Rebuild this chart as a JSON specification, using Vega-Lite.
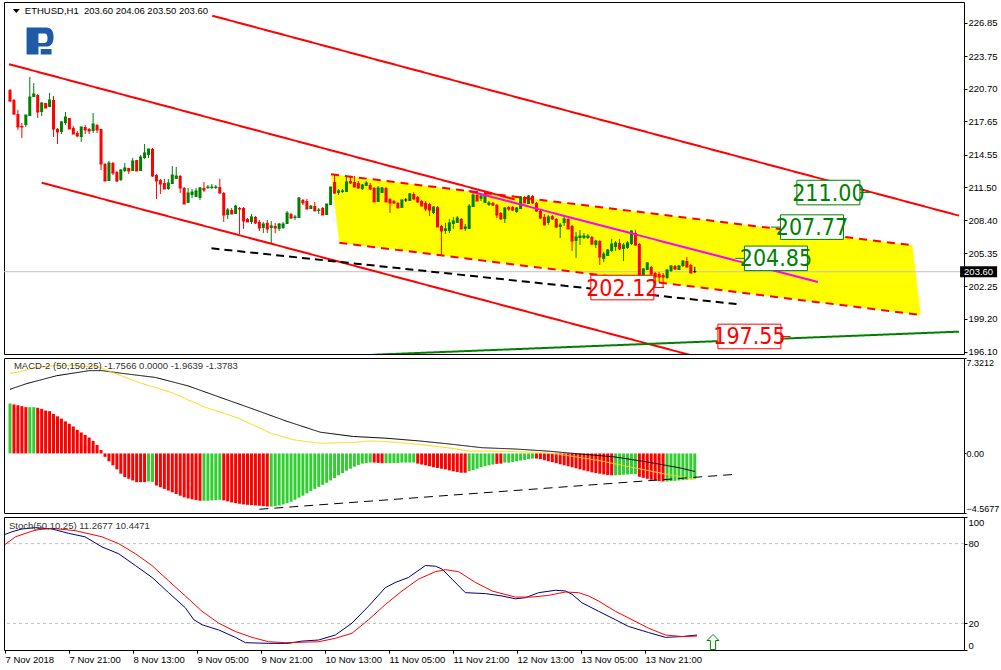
{
"$schema": "https://vega.github.io/schema/vega-lite/v6.json",
"background": "#ffffff",
"padding": {"left": 2, "top": 1, "right": 0, "bottom": 0},
"spacing": 4,
"bounds": "flush",
"resolve": {"scale": {"x": "independent", "y": "independent", "color": "independent", "stroke": "independent", "strokeDash": "independent", "strokeWidth": "independent"}},
"config": {"view": {"stroke": "#000000", "strokeWidth": 1}, "font": "Liberation Sans", "axis": {"labelOverlap": false, "labelFontSize": 9.5, "labelFont": "Liberation Sans", "labelColor": "#000000", "tickColor": "#000000", "grid": false, "domain": false}},
"datasets": {
"candles": [
{"i":0,"o":220.59,"hi":220.68,"lo":219.46,"c":219.56},{"i":1,"o":219.65,"hi":219.74,"lo":218.25,"c":218.34},{"i":2,"o":218.34,"hi":218.72,"lo":216.85,"c":217.13},{"i":3,"o":217.22,"hi":217.50,"lo":216.10,"c":217.13},{"i":4,"o":217.31,"hi":218.25,"lo":217.13,"c":218.25},{"i":5,"o":218.16,"hi":221.80,"lo":218.16,"c":219.93},{"i":6,"o":219.93,"hi":221.24,"lo":219.93,"c":220.21},{"i":7,"o":220.12,"hi":220.21,"lo":217.97,"c":218.53},{"i":8,"o":218.53,"hi":219.46,"lo":218.16,"c":219.37},{"i":9,"o":219.37,"hi":219.37,"lo":218.90,"c":218.90},
{"i":10,"o":219.00,"hi":220.31,"lo":219.00,"c":219.65},{"i":11,"o":219.65,"hi":220.03,"lo":216.19,"c":216.94},{"i":12,"o":216.94,"hi":217.03,"lo":215.54,"c":216.66},{"i":13,"o":216.66,"hi":217.69,"lo":216.47,"c":217.60},{"i":14,"o":217.50,"hi":218.53,"lo":217.31,"c":218.06},{"i":15,"o":217.97,"hi":217.97,"lo":216.94,"c":216.94},{"i":16,"o":217.03,"hi":217.22,"lo":216.47,"c":216.47},{"i":17,"o":216.57,"hi":216.75,"lo":216.19,"c":216.29},{"i":18,"o":216.19,"hi":217.13,"lo":215.73,"c":217.13},{"i":19,"o":217.13,"hi":217.31,"lo":216.47,"c":216.85},
{"i":20,"o":216.94,"hi":217.03,"lo":216.47,"c":216.75},{"i":21,"o":216.75,"hi":218.44,"lo":216.57,"c":217.41},{"i":22,"o":217.31,"hi":217.41,"lo":216.57,"c":216.85},{"i":23,"o":216.94,"hi":216.94,"lo":213.11,"c":213.67},{"i":24,"o":213.67,"hi":213.76,"lo":212.08,"c":212.08},{"i":25,"o":212.08,"hi":213.95,"lo":212.08,"c":213.76},{"i":26,"o":213.76,"hi":213.86,"lo":212.64,"c":212.83},{"i":27,"o":212.92,"hi":213.02,"lo":211.99,"c":212.08},{"i":28,"o":212.17,"hi":213.20,"lo":212.08,"c":213.11},{"i":29,"o":213.02,"hi":213.76,"lo":212.92,"c":213.30},
{"i":30,"o":213.30,"hi":213.30,"lo":212.74,"c":213.02},{"i":31,"o":213.02,"hi":214.23,"lo":213.02,"c":213.95},{"i":32,"o":214.04,"hi":214.04,"lo":213.02,"c":213.02},{"i":33,"o":213.02,"hi":214.51,"lo":213.02,"c":214.32},{"i":34,"o":214.23,"hi":215.54,"lo":214.14,"c":214.70},{"i":35,"o":214.51,"hi":215.07,"lo":214.23,"c":215.07},{"i":36,"o":215.07,"hi":215.17,"lo":212.46,"c":212.55},{"i":37,"o":212.64,"hi":212.74,"lo":210.40,"c":212.08},{"i":38,"o":212.17,"hi":212.27,"lo":210.87,"c":211.80},{"i":39,"o":211.89,"hi":212.27,"lo":211.33,"c":211.33},
{"i":40,"o":211.33,"hi":212.27,"lo":211.24,"c":211.89},{"i":41,"o":211.80,"hi":213.48,"lo":211.80,"c":212.64},{"i":42,"o":212.27,"hi":213.39,"lo":212.27,"c":212.55},{"i":43,"o":212.55,"hi":212.64,"lo":210.96,"c":211.43},{"i":44,"o":211.43,"hi":211.52,"lo":209.93,"c":209.93},{"i":45,"o":210.03,"hi":211.43,"lo":210.03,"c":210.96},{"i":46,"o":210.77,"hi":211.33,"lo":210.49,"c":211.05},{"i":47,"o":210.59,"hi":211.43,"lo":210.59,"c":211.15},{"i":48,"o":210.49,"hi":211.52,"lo":210.31,"c":211.43},{"i":49,"o":211.43,"hi":211.99,"lo":211.05,"c":211.24},
{"i":50,"o":211.43,"hi":211.71,"lo":211.33,"c":211.52},{"i":51,"o":211.43,"hi":211.80,"lo":211.33,"c":211.52},{"i":52,"o":211.43,"hi":211.71,"lo":211.33,"c":211.52},{"i":53,"o":211.52,"hi":212.27,"lo":210.87,"c":210.96},{"i":54,"o":210.96,"hi":211.05,"lo":208.25,"c":208.90},{"i":55,"o":208.90,"hi":209.56,"lo":208.53,"c":209.37},{"i":56,"o":209.37,"hi":209.56,"lo":209.00,"c":209.00},{"i":57,"o":209.00,"hi":209.84,"lo":209.00,"c":209.74},{"i":58,"o":209.56,"hi":209.65,"lo":207.13,"c":209.46},{"i":59,"o":209.56,"hi":209.65,"lo":207.60,"c":208.34},
{"i":60,"o":208.53,"hi":208.62,"lo":208.25,"c":208.25},{"i":61,"o":208.25,"hi":209.00,"lo":208.06,"c":208.72},{"i":62,"o":208.72,"hi":208.81,"lo":208.06,"c":208.16},{"i":63,"o":208.25,"hi":208.44,"lo":207.41,"c":207.69},{"i":64,"o":207.69,"hi":208.25,"lo":207.22,"c":208.06},{"i":65,"o":208.16,"hi":208.44,"lo":207.22,"c":207.60},{"i":66,"o":207.69,"hi":208.34,"lo":206.19,"c":207.88},{"i":67,"o":207.88,"hi":208.16,"lo":207.22,"c":207.69},{"i":68,"o":207.60,"hi":208.16,"lo":207.41,"c":208.06},{"i":69,"o":207.69,"hi":208.25,"lo":207.60,"c":208.06},
{"i":70,"o":208.06,"hi":209.28,"lo":208.06,"c":209.09},{"i":71,"o":209.00,"hi":209.09,"lo":208.53,"c":208.62},{"i":72,"o":208.62,"hi":208.90,"lo":208.44,"c":208.72},{"i":73,"o":208.62,"hi":210.59,"lo":208.62,"c":210.49},{"i":74,"o":210.31,"hi":210.40,"lo":209.84,"c":210.03},{"i":75,"o":210.21,"hi":210.40,"lo":209.46,"c":209.46},{"i":76,"o":209.46,"hi":209.84,"lo":209.46,"c":209.74},{"i":77,"o":209.74,"hi":210.12,"lo":209.28,"c":209.28},{"i":78,"o":209.28,"hi":209.56,"lo":209.00,"c":209.37},{"i":79,"o":209.56,"hi":209.65,"lo":208.90,"c":208.90},
{"i":80,"o":208.90,"hi":209.93,"lo":208.90,"c":209.93},{"i":81,"o":209.84,"hi":211.52,"lo":209.84,"c":211.52},{"i":82,"o":211.99,"hi":212.74,"lo":210.87,"c":210.96},{"i":83,"o":210.96,"hi":211.33,"lo":210.77,"c":211.15},{"i":84,"o":211.05,"hi":211.33,"lo":210.96,"c":211.15},{"i":85,"o":211.05,"hi":212.55,"lo":211.05,"c":211.99},{"i":86,"o":212.08,"hi":212.55,"lo":211.80,"c":211.89},{"i":87,"o":211.99,"hi":212.55,"lo":211.52,"c":211.52},{"i":88,"o":211.89,"hi":212.08,"lo":211.33,"c":211.43},{"i":89,"o":211.33,"hi":211.80,"lo":211.24,"c":211.71},
{"i":90,"o":211.61,"hi":212.08,"lo":211.61,"c":211.89},{"i":91,"o":211.71,"hi":211.89,"lo":211.24,"c":211.33},{"i":92,"o":211.43,"hi":211.52,"lo":210.12,"c":210.12},{"i":93,"o":210.12,"hi":211.61,"lo":210.12,"c":211.43},{"i":94,"o":210.96,"hi":211.52,"lo":210.96,"c":211.43},{"i":95,"o":211.43,"hi":211.52,"lo":210.12,"c":210.12},{"i":96,"o":210.40,"hi":210.49,"lo":209.09,"c":210.03},{"i":97,"o":210.21,"hi":210.31,"lo":209.93,"c":210.03},{"i":98,"o":210.03,"hi":210.12,"lo":209.56,"c":209.56},{"i":99,"o":209.56,"hi":210.31,"lo":209.56,"c":210.31},
{"i":100,"o":210.31,"hi":210.49,"lo":210.12,"c":210.31},{"i":101,"o":210.21,"hi":210.96,"lo":210.21,"c":210.87},{"i":102,"o":210.87,"hi":211.05,"lo":210.31,"c":210.40},{"i":103,"o":210.59,"hi":210.68,"lo":210.03,"c":210.12},{"i":104,"o":210.21,"hi":210.31,"lo":209.74,"c":209.74},{"i":105,"o":210.03,"hi":210.21,"lo":209.28,"c":209.46},{"i":106,"o":209.93,"hi":210.03,"lo":208.81,"c":209.37},{"i":107,"o":209.09,"hi":209.74,"lo":209.00,"c":209.65},{"i":108,"o":209.65,"hi":209.74,"lo":207.78,"c":207.78},{"i":109,"o":207.88,"hi":207.97,"lo":205.07,"c":207.41},
{"i":110,"o":207.41,"hi":208.16,"lo":207.13,"c":207.60},{"i":111,"o":207.41,"hi":208.53,"lo":207.22,"c":208.16},{"i":112,"o":208.06,"hi":208.72,"lo":207.60,"c":208.34},{"i":113,"o":208.16,"hi":208.81,"lo":208.16,"c":208.62},{"i":114,"o":208.53,"hi":208.62,"lo":207.60,"c":207.60},{"i":115,"o":207.60,"hi":208.06,"lo":207.41,"c":207.78},{"i":116,"o":207.60,"hi":209.93,"lo":207.60,"c":209.74},{"i":117,"o":209.65,"hi":210.96,"lo":209.65,"c":210.77},{"i":118,"o":210.77,"hi":211.15,"lo":210.21,"c":210.21},{"i":119,"o":210.40,"hi":210.87,"lo":210.21,"c":210.68},
{"i":120,"o":210.03,"hi":210.96,"lo":210.03,"c":210.77},{"i":121,"o":209.84,"hi":210.21,"lo":209.74,"c":210.03},{"i":122,"o":210.03,"hi":210.12,"lo":209.74,"c":209.84},{"i":123,"o":209.84,"hi":209.93,"lo":208.62,"c":208.90},{"i":124,"o":209.09,"hi":209.18,"lo":208.44,"c":208.53},{"i":125,"o":208.53,"hi":209.65,"lo":208.16,"c":209.56},{"i":126,"o":209.65,"hi":209.74,"lo":209.28,"c":209.46},{"i":127,"o":209.65,"hi":209.74,"lo":209.28,"c":209.37},{"i":128,"o":209.18,"hi":209.65,"lo":209.09,"c":209.56},{"i":129,"o":209.46,"hi":210.68,"lo":209.46,"c":210.59},
{"i":130,"o":210.59,"hi":210.68,"lo":210.03,"c":210.03},{"i":131,"o":209.93,"hi":210.77,"lo":209.93,"c":210.68},{"i":132,"o":210.68,"hi":210.77,"lo":209.93,"c":210.03},{"i":133,"o":210.03,"hi":210.12,"lo":209.18,"c":209.28},{"i":134,"o":209.28,"hi":209.37,"lo":208.53,"c":208.62},{"i":135,"o":208.72,"hi":209.00,"lo":207.97,"c":207.97},{"i":136,"o":208.16,"hi":208.90,"lo":207.97,"c":208.72},{"i":137,"o":208.81,"hi":208.90,"lo":208.44,"c":208.53},{"i":138,"o":208.53,"hi":208.62,"lo":207.69,"c":207.78},{"i":139,"o":207.78,"hi":208.16,"lo":206.75,"c":207.97},
{"i":140,"o":208.16,"hi":208.90,"lo":207.88,"c":208.53},{"i":141,"o":208.53,"hi":208.62,"lo":207.60,"c":207.60},{"i":142,"o":207.88,"hi":207.97,"lo":205.54,"c":206.47},{"i":143,"o":206.47,"hi":207.31,"lo":204.89,"c":206.85},{"i":144,"o":206.75,"hi":207.50,"lo":206.10,"c":206.94},{"i":145,"o":206.75,"hi":207.22,"lo":206.66,"c":206.94},{"i":146,"o":206.75,"hi":207.13,"lo":206.66,"c":206.94},{"i":147,"o":206.85,"hi":206.94,"lo":206.10,"c":206.19},{"i":148,"o":206.10,"hi":206.57,"lo":205.82,"c":206.47},{"i":149,"o":206.47,"hi":206.57,"lo":204.23,"c":204.98},
{"i":150,"o":204.79,"hi":205.45,"lo":204.51,"c":205.26},{"i":151,"o":205.07,"hi":205.73,"lo":205.07,"c":205.63},{"i":152,"o":205.54,"hi":206.66,"lo":205.45,"c":206.19},{"i":153,"o":205.91,"hi":206.47,"lo":205.54,"c":206.29},{"i":154,"o":206.29,"hi":206.66,"lo":205.63,"c":205.73},{"i":155,"o":205.73,"hi":206.29,"lo":204.60,"c":206.10},{"i":156,"o":205.82,"hi":206.47,"lo":205.73,"c":206.29},{"i":157,"o":206.19,"hi":207.50,"lo":206.10,"c":207.41},{"i":158,"o":207.22,"hi":207.50,"lo":206.01,"c":206.10},{"i":159,"o":206.19,"hi":206.29,"lo":202.83,"c":202.92},
{"i":160,"o":203.11,"hi":203.95,"lo":202.83,"c":203.86},{"i":161,"o":203.76,"hi":204.51,"lo":203.76,"c":204.42},{"i":162,"o":204.04,"hi":204.14,"lo":203.20,"c":203.39},{"i":163,"o":203.48,"hi":203.58,"lo":202.55,"c":203.11},{"i":164,"o":203.39,"hi":203.58,"lo":202.64,"c":203.11},{"i":165,"o":203.30,"hi":203.48,"lo":202.12,"c":203.11},{"i":166,"o":203.02,"hi":203.86,"lo":202.92,"c":203.76},{"i":167,"o":203.67,"hi":204.23,"lo":203.58,"c":204.14},{"i":168,"o":204.14,"hi":204.23,"lo":203.76,"c":203.86},{"i":169,"o":203.76,"hi":204.23,"lo":203.76,"c":204.14},
{"i":170,"o":204.14,"hi":204.70,"lo":204.04,"c":204.60},{"i":171,"o":204.60,"hi":204.98,"lo":204.04,"c":204.04},{"i":172,"o":204.23,"hi":204.32,"lo":203.48,"c":203.48},{"i":173,"o":203.60,"hi":204.06,"lo":203.50,"c":203.60}
],
"macdh": [
{"i":0,"m":3.83,"col":"g"},{"i":1,"m":3.76,"col":"r"},{"i":2,"m":3.70,"col":"r"},{"i":3,"m":3.63,"col":"r"},{"i":4,"m":3.55,"col":"r"},{"i":5,"m":3.55,"col":"g"},{"i":6,"m":3.55,"col":"g"},{"i":7,"m":3.50,"col":"r"},{"i":8,"m":3.42,"col":"r"},{"i":9,"m":3.29,"col":"r"},
{"i":10,"m":3.24,"col":"r"},{"i":11,"m":3.03,"col":"r"},{"i":12,"m":2.85,"col":"r"},{"i":13,"m":2.67,"col":"r"},{"i":14,"m":2.46,"col":"r"},{"i":15,"m":2.28,"col":"r"},{"i":16,"m":2.07,"col":"r"},{"i":17,"m":1.81,"col":"r"},{"i":18,"m":1.61,"col":"r"},{"i":19,"m":1.42,"col":"r"},
{"i":20,"m":1.22,"col":"r"},{"i":21,"m":0.96,"col":"r"},{"i":22,"m":0.65,"col":"r"},{"i":23,"m":0.26,"col":"r"},{"i":24,"m":-0.26,"col":"r"},{"i":25,"m":-0.60,"col":"r"},{"i":26,"m":-0.91,"col":"r"},{"i":27,"m":-1.22,"col":"r"},{"i":28,"m":-1.55,"col":"r"},{"i":29,"m":-1.81,"col":"r"},
{"i":30,"m":-1.94,"col":"r"},{"i":31,"m":-2.07,"col":"r"},{"i":32,"m":-2.20,"col":"r"},{"i":33,"m":-2.20,"col":"r"},{"i":34,"m":-2.20,"col":"r"},{"i":35,"m":-2.15,"col":"g"},{"i":36,"m":-2.18,"col":"g"},{"i":37,"m":-2.46,"col":"r"},{"i":38,"m":-2.59,"col":"r"},{"i":39,"m":-2.72,"col":"r"},
{"i":40,"m":-2.85,"col":"r"},{"i":41,"m":-2.98,"col":"r"},{"i":42,"m":-3.11,"col":"r"},{"i":43,"m":-3.24,"col":"r"},{"i":44,"m":-3.37,"col":"r"},{"i":45,"m":-3.45,"col":"r"},{"i":46,"m":-3.52,"col":"r"},{"i":47,"m":-3.58,"col":"r"},{"i":48,"m":-3.63,"col":"r"},{"i":49,"m":-3.63,"col":"g"},
{"i":50,"m":-3.63,"col":"g"},{"i":51,"m":-3.60,"col":"g"},{"i":52,"m":-3.58,"col":"g"},{"i":53,"m":-3.55,"col":"g"},{"i":54,"m":-3.60,"col":"r"},{"i":55,"m":-3.68,"col":"r"},{"i":56,"m":-3.76,"col":"r"},{"i":57,"m":-3.81,"col":"r"},{"i":58,"m":-3.86,"col":"r"},{"i":59,"m":-3.91,"col":"r"},
{"i":60,"m":-3.94,"col":"r"},{"i":61,"m":-3.96,"col":"r"},{"i":62,"m":-3.99,"col":"r"},{"i":63,"m":-4.02,"col":"r"},{"i":64,"m":-4.04,"col":"r"},{"i":65,"m":-4.07,"col":"r"},{"i":66,"m":-4.07,"col":"g"},{"i":67,"m":-4.04,"col":"g"},{"i":68,"m":-3.99,"col":"g"},{"i":69,"m":-3.91,"col":"g"},
{"i":70,"m":-3.81,"col":"g"},{"i":71,"m":-3.70,"col":"g"},{"i":72,"m":-3.55,"col":"g"},{"i":73,"m":-3.39,"col":"g"},{"i":74,"m":-3.24,"col":"g"},{"i":75,"m":-3.06,"col":"g"},{"i":76,"m":-2.88,"col":"g"},{"i":77,"m":-2.72,"col":"g"},{"i":78,"m":-2.56,"col":"g"},{"i":79,"m":-2.41,"col":"g"},
{"i":80,"m":-2.25,"col":"g"},{"i":81,"m":-2.07,"col":"g"},{"i":82,"m":-1.89,"col":"g"},{"i":83,"m":-1.68,"col":"g"},{"i":84,"m":-1.50,"col":"g"},{"i":85,"m":-1.32,"col":"g"},{"i":86,"m":-1.17,"col":"g"},{"i":87,"m":-1.01,"col":"g"},{"i":88,"m":-0.88,"col":"g"},{"i":89,"m":-0.78,"col":"g"},
{"i":90,"m":-0.73,"col":"g"},{"i":91,"m":-0.70,"col":"g"},{"i":92,"m":-0.70,"col":"r"},{"i":93,"m":-0.73,"col":"r"},{"i":94,"m":-0.75,"col":"r"},{"i":95,"m":-0.75,"col":"g"},{"i":96,"m":-0.75,"col":"g"},{"i":97,"m":-0.73,"col":"g"},{"i":98,"m":-0.73,"col":"g"},{"i":99,"m":-0.70,"col":"g"},
{"i":100,"m":-0.70,"col":"g"},{"i":101,"m":-0.70,"col":"g"},{"i":102,"m":-0.70,"col":"g"},{"i":103,"m":-0.78,"col":"r"},{"i":104,"m":-0.85,"col":"r"},{"i":105,"m":-0.91,"col":"r"},{"i":106,"m":-0.98,"col":"r"},{"i":107,"m":-1.06,"col":"r"},{"i":108,"m":-1.11,"col":"r"},{"i":109,"m":-1.17,"col":"r"},
{"i":110,"m":-1.22,"col":"r"},{"i":111,"m":-1.30,"col":"r"},{"i":112,"m":-1.37,"col":"r"},{"i":113,"m":-1.42,"col":"r"},{"i":114,"m":-1.48,"col":"r"},{"i":115,"m":-1.48,"col":"r"},{"i":116,"m":-1.37,"col":"g"},{"i":117,"m":-1.27,"col":"g"},{"i":118,"m":-1.17,"col":"g"},{"i":119,"m":-1.06,"col":"g"},
{"i":120,"m":-0.96,"col":"g"},{"i":121,"m":-0.91,"col":"g"},{"i":122,"m":-0.85,"col":"g"},{"i":123,"m":-0.80,"col":"r"},{"i":124,"m":-0.78,"col":"r"},{"i":125,"m":-0.70,"col":"g"},{"i":126,"m":-0.70,"col":"g"},{"i":127,"m":-0.65,"col":"g"},{"i":128,"m":-0.60,"col":"g"},{"i":129,"m":-0.54,"col":"g"},
{"i":130,"m":-0.49,"col":"g"},{"i":131,"m":-0.44,"col":"g"},{"i":132,"m":-0.39,"col":"g"},{"i":133,"m":-0.39,"col":"r"},{"i":134,"m":-0.44,"col":"r"},{"i":135,"m":-0.52,"col":"r"},{"i":136,"m":-0.60,"col":"r"},{"i":137,"m":-0.67,"col":"r"},{"i":138,"m":-0.75,"col":"r"},{"i":139,"m":-0.83,"col":"r"},
{"i":140,"m":-0.91,"col":"r"},{"i":141,"m":-0.98,"col":"r"},{"i":142,"m":-1.06,"col":"r"},{"i":143,"m":-1.14,"col":"r"},{"i":144,"m":-1.22,"col":"r"},{"i":145,"m":-1.30,"col":"r"},{"i":146,"m":-1.37,"col":"r"},{"i":147,"m":-1.45,"col":"r"},{"i":148,"m":-1.50,"col":"r"},{"i":149,"m":-1.55,"col":"r"},
{"i":150,"m":-1.61,"col":"r"},{"i":151,"m":-1.66,"col":"r"},{"i":152,"m":-1.68,"col":"r"},{"i":153,"m":-1.68,"col":"g"},{"i":154,"m":-1.66,"col":"g"},{"i":155,"m":-1.63,"col":"g"},{"i":156,"m":-1.61,"col":"g"},{"i":157,"m":-1.58,"col":"g"},{"i":158,"m":-1.58,"col":"g"},{"i":159,"m":-1.79,"col":"r"},
{"i":160,"m":-1.87,"col":"r"},{"i":161,"m":-1.94,"col":"r"},{"i":162,"m":-2.02,"col":"r"},{"i":163,"m":-2.07,"col":"r"},{"i":164,"m":-2.12,"col":"r"},{"i":165,"m":-2.15,"col":"r"},{"i":166,"m":-2.15,"col":"g"},{"i":167,"m":-2.12,"col":"g"},{"i":168,"m":-2.10,"col":"g"},{"i":169,"m":-2.07,"col":"g"},
{"i":170,"m":-2.05,"col":"g"},{"i":171,"m":-2.02,"col":"g"},{"i":172,"m":-1.99,"col":"g"},{"i":173,"m":-1.94,"col":"g"}
],
"macdl": [
{"s":"macd","i":0,"m":4.92},{"s":"macd","i":4.25,"m":5.36},{"s":"macd","i":11.75,"m":5.96},{"s":"macd","i":20,"m":6.35},{"s":"macd","i":23.4,"m":6.35},{"s":"macd","i":28.4,"m":6.14},{"s":"macd","i":36.75,"m":5.83},{"s":"macd","i":45,"m":5.18},{"s":"macd","i":53.4,"m":4.27},{"s":"macd","i":61.75,"m":3.37},{"s":"macd","i":70,"m":2.46},{"s":"macd","i":78.4,"m":1.63},{"s":"macd","i":86.75,"m":1.30},{"s":"macd","i":95,"m":1.17},{"s":"macd","i":103.4,"m":0.96},{"s":"macd","i":111.75,"m":0.70},{"s":"macd","i":119.25,"m":0.44},{"s":"macd","i":127.6,"m":0.34},{"s":"macd","i":135.9,"m":0.18},{"s":"macd","i":144.25,"m":-0.05},{"s":"macd","i":152.6,"m":-0.26},{"s":"macd","i":160.9,"m":-0.65},{"s":"macd","i":169.25,"m":-1.11},{"s":"macd","i":173,"m":-1.38},
{"s":"sig","i":0,"m":6.14},{"s":"sig","i":1.75,"m":6.22},{"s":"sig","i":6.75,"m":6.61},{"s":"sig","i":11.75,"m":6.74},{"s":"sig","i":16,"m":6.74},{"s":"sig","i":22.6,"m":6.61},{"s":"sig","i":25.9,"m":6.22},{"s":"sig","i":32.6,"m":5.44},{"s":"sig","i":40.9,"m":4.66},{"s":"sig","i":49.25,"m":3.55},{"s":"sig","i":57.6,"m":2.72},{"s":"sig","i":65.9,"m":1.55},{"s":"sig","i":71.75,"m":1.04},{"s":"sig","i":78.4,"m":0.78},{"s":"sig","i":86.75,"m":0.85},{"s":"sig","i":90.9,"m":0.96},{"s":"sig","i":95,"m":0.91},{"s":"sig","i":103.4,"m":0.70},{"s":"sig","i":111.75,"m":0.39},{"s":"sig","i":115.9,"m":0.18},{"s":"sig","i":124.25,"m":0.18},{"s":"sig","i":127.6,"m":0.13},{"s":"sig","i":134.25,"m":0.08},{"s":"sig","i":140.1,"m":-0.13},{"s":"sig","i":148.4,"m":-0.52},{"s":"sig","i":156.75,"m":-1.04},{"s":"sig","i":165.1,"m":-1.55},{"s":"sig","i":173,"m":-1.99},
{"s":"trend","i":63,"m":-4.28},{"s":"trend","i":183.75,"m":-1.59}
],
"stoch": [
{"s":"main","i":0,"v":86.9},{"s":"main","i":1.75,"v":88.9},{"s":"main","i":4.25,"v":91.0},{"s":"main","i":7.6,"v":92.0},{"s":"main","i":11.75,"v":91.0},{"s":"main","i":15.9,"v":87.7},{"s":"main","i":20,"v":85.1},{"s":"main","i":24.25,"v":77.5},{"s":"main","i":28.4,"v":72.4},{"s":"main","i":32.6,"v":63.5},{"s":"main","i":36.75,"v":54.6},{"s":"main","i":40.9,"v":43.1},{"s":"main","i":45.1,"v":31.7},{"s":"main","i":47.2,"v":22.8},{"s":"main","i":49.25,"v":19.0},{"s":"main","i":53.4,"v":15.1},{"s":"main","i":57.6,"v":9.5},{"s":"main","i":60.1,"v":5.5},{"s":"main","i":65.9,"v":5.0},{"s":"main","i":70.9,"v":5.0},{"s":"main","i":74.25,"v":6.7},{"s":"main","i":78.4,"v":7.5},{"s":"main","i":82.6,"v":11.3},{"s":"main","i":86.75,"v":20.2},{"s":"main","i":90.9,"v":33.0},{"s":"main","i":95.1,"v":46.9},{"s":"main","i":97.6,"v":50.8},{"s":"main","i":100.9,"v":54.6},{"s":"main","i":105.1,"v":63.5},{"s":"main","i":107.6,"v":63.0},{"s":"main","i":109.25,"v":60.9},{"s":"main","i":111.75,"v":53.3},{"s":"main","i":115.1,"v":43.1},{"s":"main","i":120.1,"v":42.4},{"s":"main","i":124.25,"v":40.6},{"s":"main","i":127.6,"v":38.5},{"s":"main","i":130.1,"v":39.3},{"s":"main","i":133.4,"v":43.1},{"s":"main","i":137.6,"v":44.9},{"s":"main","i":140.1,"v":44.4},{"s":"main","i":141.75,"v":41.9},{"s":"main","i":144.25,"v":35.5},{"s":"main","i":148.4,"v":29.1},{"s":"main","i":152.6,"v":22.8},{"s":"main","i":155.9,"v":17.7},{"s":"main","i":160.9,"v":13.1},{"s":"main","i":165.1,"v":9.5},{"s":"main","i":169.25,"v":10.1},{"s":"main","i":173,"v":11.27},
{"s":"sig","i":0,"v":79.3},{"s":"sig","i":2.6,"v":85.1},{"s":"sig","i":7.6,"v":90.2},{"s":"sig","i":11.75,"v":91.5},{"s":"sig","i":17.6,"v":89.7},{"s":"sig","i":24.25,"v":85.1},{"s":"sig","i":28.4,"v":80.0},{"s":"sig","i":32.6,"v":72.4},{"s":"sig","i":36.75,"v":63.5},{"s":"sig","i":40.9,"v":52.0},{"s":"sig","i":45.1,"v":40.6},{"s":"sig","i":49.25,"v":29.1},{"s":"sig","i":53.4,"v":20.2},{"s":"sig","i":57.6,"v":13.9},{"s":"sig","i":61.75,"v":9.5},{"s":"sig","i":65.9,"v":6.2},{"s":"sig","i":70.1,"v":5.5},{"s":"sig","i":78.4,"v":6.2},{"s":"sig","i":82.6,"v":8.8},{"s":"sig","i":86.75,"v":12.6},{"s":"sig","i":90.9,"v":22.8},{"s":"sig","i":95.1,"v":34.2},{"s":"sig","i":99.25,"v":44.4},{"s":"sig","i":103.4,"v":53.3},{"s":"sig","i":107.6,"v":58.9},{"s":"sig","i":110.1,"v":60.4},{"s":"sig","i":113.4,"v":58.9},{"s":"sig","i":117.6,"v":50.8},{"s":"sig","i":121.75,"v":44.4},{"s":"sig","i":124.25,"v":42.4},{"s":"sig","i":127.6,"v":39.8},{"s":"sig","i":131.75,"v":39.8},{"s":"sig","i":135.9,"v":41.1},{"s":"sig","i":140.1,"v":43.6},{"s":"sig","i":143.4,"v":43.1},{"s":"sig","i":145.9,"v":40.6},{"s":"sig","i":148.4,"v":36.8},{"s":"sig","i":152.6,"v":29.1},{"s":"sig","i":156.75,"v":22.8},{"s":"sig","i":160.9,"v":16.4},{"s":"sig","i":165.1,"v":11.3},{"s":"sig","i":169.25,"v":10.1},{"s":"sig","i":173,"v":10.45}
],
"mlines": [
{"seg":"a","kind":"ch","h":51.1,"v":227.53},{"seg":"a","kind":"ch","h":239.75,"v":208.84},
{"seg":"b","kind":"ch","h":-0.25,"v":223.0},{"seg":"b","kind":"ch","h":127.5,"v":210.36},
{"seg":"c","kind":"ch","h":8,"v":211.92},{"seg":"c","kind":"ch","h":174.25,"v":195.58},
{"seg":"d","kind":"mg","h":115.9,"v":211.15},{"seg":"d","kind":"mg","h":204.1,"v":202.64},
{"seg":"e","kind":"pe","h":81.1,"v":212.71},{"seg":"e","kind":"pe","h":228,"v":206.07},
{"seg":"f","kind":"pe","h":83.2,"v":206.31},{"seg":"f","kind":"pe","h":230.1,"v":199.56},
{"seg":"g","kind":"tr","h":50.9,"v":205.79},{"seg":"g","kind":"tr","h":184,"v":200.56},
{"seg":"k","kind":"gr","h":91.75,"v":195.84},{"seg":"k","kind":"gr","h":239.75,"v":198.0}
],
"poly": [
{"h":81.1,"top":212.71,"bot":212.71},{"h":83.2,"top":212.61,"bot":206.31},{"h":228.0,"top":206.07,"bot":199.66},{"h":230.1,"top":199.56,"bot":199.56}
],
"labels": [
{"h":206.75,"v":211.00,"t":"211.00","col":"g"},{"h":202.6,"v":207.77,"t":"207.77","col":"g"},{"h":193.5,"v":204.85,"t":"204.85","col":"g"},{"h":154.7,"v":202.12,"t":"202.12","col":"r"},{"h":186.8,"v":197.55,"t":"197.55","col":"r"}
],
"conn": [
{"h":214.7,"h2":217.2,"v":211.00,"col":"g"},{"h":192.2,"h2":194.9,"v":207.77,"col":"g"},{"h":183.25,"h2":185.75,"v":204.85,"col":"g"},{"h":194.7,"h2":197.2,"v":197.55,"col":"r"},{"h":162.6,"h2":165.25,"v":202.12,"col":"r"}
],
"pticks": [
{"p":196.1},{"p":199.2},{"p":202.25},{"p":205.35},{"p":208.4},{"p":211.5},{"p":214.55},{"p":217.65},{"p":220.7},{"p":223.75},{"p":226.85}
]
},
"vconcat": [
{
"width": 960, "height": 352,
"resolve": {"scale": {"color": "independent", "stroke": "independent", "strokeDash": "independent", "strokeWidth": "independent"}, "axis": {"y": "independent"}},
"layer": [
{"data": {"name": "poly"}, "mark": {"type": "area", "color": "#ffff00", "clip": true, "opacity": 1},
 "encoding": {
  "x": {"field": "h", "type": "quantitative", "scale": {"domain": [-0.25, 239.75], "nice": false, "zero": false}, "axis": null},
  "y": {"field": "top", "type": "quantitative", "scale": {"domain": [195.91, 228.81], "nice": false, "zero": false}, "axis": null},
  "y2": {"field": "bot"}
 }},
{"data": {"values": [{"v": 203.6}]}, "mark": {"type": "rule", "color": "#c0c0c0", "strokeWidth": 1},
 "encoding": {"y": {"field": "v", "type": "quantitative", "axis": null}}},
{"data": {"name": "candles"}, "mark": {"type": "rule", "strokeWidth": 1},
 "encoding": {
  "x": {"field": "i", "type": "quantitative", "axis": null},
  "y": {"field": "lo", "type": "quantitative", "axis": null},
  "y2": {"field": "hi"},
  "color": {"condition": [{"test": "datum.c > datum.o", "value": "#008000"}, {"test": "datum.c == datum.o", "value": "#000000"}], "value": "#ff0000"}
 }},
{"data": {"name": "candles"}, "mark": {"type": "bar", "size": 3},
 "encoding": {
  "x": {"field": "i", "type": "quantitative", "axis": null},
  "y": {"field": "o", "type": "quantitative", "axis": null},
  "y2": {"field": "c"},
  "color": {"condition": [{"test": "datum.c > datum.o", "value": "#008000"}, {"test": "datum.c == datum.o", "value": "#000000"}], "value": "#ff0000"}
 }},
{"data": {"name": "candles"}, "mark": {"type": "point", "shape": "M-1,0H1", "size": 9, "filled": false, "strokeWidth": 1, "opacity": 1},
 "encoding": {
  "x": {"field": "i", "type": "quantitative", "axis": null},
  "y": {"field": "c", "type": "quantitative", "axis": null},
  "color": {"condition": [{"test": "datum.c > datum.o", "value": "#008000"}, {"test": "datum.c == datum.o", "value": "#000000"}], "value": "#ff0000"}
 }},
{"data": {"name": "mlines"}, "mark": {"type": "line", "clip": true},
 "encoding": {
  "x": {"field": "h", "type": "quantitative", "axis": null},
  "y": {"field": "v", "type": "quantitative", "axis": null},
  "detail": {"field": "seg"},
  "color": {"field": "kind", "type": "nominal", "scale": {"domain": ["ch","mg","pe","tr","gr"], "range": ["#ff0000","#ff00ff","#ff0000","#000000","#008000"]}, "legend": null},
  "strokeWidth": {"field": "kind", "type": "nominal", "scale": {"domain": ["ch","mg","pe","tr","gr"], "range": [2,2,1,1,2]}, "legend": null},
  "strokeDash": {"field": "kind", "type": "nominal", "scale": {"domain": ["ch","mg","pe","tr","gr"], "range": [[1,0],[1,0],[8,6],[8,5],[1,0]]}, "legend": null}
 }},
{"data": {"name": "conn"}, "mark": {"type": "rule", "strokeWidth": 1},
 "encoding": {
  "x": {"field": "h", "type": "quantitative", "axis": null},
  "x2": {"field": "h2"},
  "y": {"field": "v", "type": "quantitative", "axis": null},
  "color": {"field": "col", "type": "nominal", "scale": {"domain": ["g","r"], "range": ["#008000","#ff0000"]}, "legend": null}
 }},
{"data": {"name": "labels"}, "mark": {"type": "point", "shape": "M-1,-0.39H1V0.39H-1Z", "size": 3969, "filled": true, "fill": "#ffffff", "strokeWidth": 1, "opacity": 1},
 "encoding": {
  "x": {"field": "h", "type": "quantitative", "axis": null},
  "y": {"field": "v", "type": "quantitative", "axis": null},
  "stroke": {"field": "col", "type": "nominal", "scale": {"domain": ["g","r"], "range": ["#008000","#ff0000"]}, "legend": null}
 }},
{"data": {"name": "labels"}, "mark": {"type": "text", "font": "Liberation Sans Narrow, Arial Narrow, DejaVu Sans Condensed, sans-serif", "fontSize": 23, "align": "center", "baseline": "middle", "dy": 1},
 "encoding": {
  "x": {"field": "h", "type": "quantitative", "axis": null},
  "y": {"field": "v", "type": "quantitative", "axis": null},
  "text": {"field": "t"},
  "color": {"field": "col", "type": "nominal", "scale": {"domain": ["g","r"], "range": ["#008000","#ff0000"]}, "legend": null}
 }},
{"data": {"values": [{"h": 3.75, "v": 227.97, "t": "ETHUSD,H1\u00a0\u00a0203.60 204.06 203.50 203.60"}]}, "mark": {"type": "text", "font": "Liberation Sans", "fontSize": 9.5, "align": "left", "baseline": "middle", "color": "#000000"},
 "encoding": {
  "x": {"field": "h", "type": "quantitative", "axis": null},
  "y": {"field": "v", "type": "quantitative", "axis": null},
  "text": {"field": "t"}
 }},
{"data": {"values": [{"h": 1.6, "v": 227.97}]}, "mark": {"type": "point", "shape": "M-1,-0.6H1L0,0.6Z", "size": 49, "filled": true, "color": "#000000", "opacity": 1},
 "encoding": {
  "x": {"field": "h", "type": "quantitative", "axis": null},
  "y": {"field": "v", "type": "quantitative", "axis": null}
 }},
{"data": {"values": [{"h": 7.6, "v": 225.17}]}, "mark": {"type": "point", "shape": "M-1,-1H0.45C0.85,-1 1,-0.7 1,-0.3C1,0.1 0.85,0.42 0.45,0.42H-0.12V1H-1ZM-0.12,-0.55V0.15H0.3C0.5,0.15 0.55,0 0.55,-0.2C0.55,-0.4 0.5,-0.55 0.3,-0.55ZM0.05,0.6H0.85V1H0.05Z", "size": 729, "filled": true, "color": "#1f5aa6", "opacity": 1},
 "encoding": {
  "x": {"field": "h", "type": "quantitative", "axis": null},
  "y": {"field": "v", "type": "quantitative", "axis": null}
 }},
{"data": {"values": [{"h": 244.7, "v": 203.6}]}, "mark": {"type": "point", "shape": "M-1,-0.3H1V0.3H-1Z", "size": 1369, "filled": true, "color": "#000000", "opacity": 1, "clip": false},
 "encoding": {
  "x": {"field": "h", "type": "quantitative", "axis": null},
  "y": {"field": "v", "type": "quantitative", "axis": null}
 }},
{"data": {"values": [{"h": 244.7, "v": 203.6, "t": "203.60"}]}, "mark": {"type": "text", "font": "Liberation Sans", "fontSize": 9.5, "align": "center", "baseline": "middle", "color": "#ffffff", "clip": false},
 "encoding": {
  "x": {"field": "h", "type": "quantitative", "axis": null},
  "y": {"field": "v", "type": "quantitative", "axis": null},
  "text": {"field": "t"}
 }},
{"data": {"name": "pticks"}, "mark": {"type": "rule", "opacity": 0},
 "encoding": {
  "y": {"field": "p", "type": "quantitative",
        "axis": {"orient": "right", "title": null, "values": [196.1,199.2,202.25,205.35,208.4,211.5,214.55,217.65,220.7,223.75,226.85], "format": ".2f", "grid": false, "domain": false, "tickSize": 3, "labelPadding": 1, "labelFlush": false, "labelOverlap": false, "labelBound": false}}
 }}
]
},
{
"width": 960, "height": 155,
"resolve": {"scale": {"color": "independent", "strokeDash": "independent"}},
"layer": [
{"data": {"name": "macdh"}, "mark": {"type": "bar", "size": 3},
 "encoding": {
  "x": {"field": "i", "type": "quantitative", "scale": {"domain": [-0.25, 239.75], "nice": false, "zero": false}, "axis": null},
  "y": {"field": "m", "type": "quantitative", "scale": {"domain": [-4.5677, 7.3212], "nice": false, "zero": false},
        "axis": {"orient": "right", "title": null, "values": [7.3212, 0, -4.5677], "labelExpr": "datum.value == 0 ? '0.00' : format(datum.value, '.4f')", "grid": false, "domain": false, "tickSize": 2, "labelPadding": 0, "labelFontSize": 9, "labelFlush": true, "labelOverlap": false}},
  "y2": {"datum": 0},
  "color": {"field": "col", "type": "nominal", "scale": {"domain": ["g","r"], "range": ["#32cd32","#ff0000"]}, "legend": null}
 }},
{"data": {"name": "macdl"}, "mark": {"type": "line", "strokeWidth": 1, "clip": true},
 "encoding": {
  "x": {"field": "i", "type": "quantitative", "axis": null},
  "y": {"field": "m", "type": "quantitative"},
  "detail": {"field": "s"},
  "color": {"field": "s", "type": "nominal", "scale": {"domain": ["macd","sig","trend"], "range": ["#000000","#ffd700","#000000"]}, "legend": null},
  "strokeDash": {"field": "s", "type": "nominal", "scale": {"domain": ["macd","sig","trend"], "range": [[1,0],[1,0],[9,6]]}, "legend": null}
 }},
{"data": {"values": [{"i": 1, "m": 6.71, "t": "MACD-2 (50,150,25) -1.7566 0.0000 -1.9639 -1.3783"}]}, "mark": {"type": "text", "font": "Liberation Sans", "fontSize": 9.5, "align": "left", "baseline": "middle", "color": "#333333"},
 "encoding": {
  "x": {"field": "i", "type": "quantitative", "axis": null},
  "y": {"field": "m", "type": "quantitative"},
  "text": {"field": "t"}
 }}
]
},
{
"width": 960, "height": 133,
"resolve": {"scale": {"color": "independent"}},
"layer": [
{"data": {"values": [{"v": 20}, {"v": 80}]}, "mark": {"type": "rule", "color": "#c0c0c0", "strokeWidth": 1, "strokeDash": [3, 3]},
 "encoding": {"y": {"field": "v", "type": "quantitative", "scale": {"domain": [0, 100], "nice": false, "zero": false}}}},
{"data": {"name": "stoch"}, "mark": {"type": "line", "strokeWidth": 1},
 "encoding": {
  "x": {"field": "i", "type": "quantitative", "scale": {"domain": [-0.25, 239.75], "nice": false, "zero": false},
        "axis": {"orient": "bottom", "title": null, "values": [0,16,32,48,64,80,96,112,128,144,160], "labelExpr": "['7 Nov 2018','7 Nov 21:00','8 Nov 13:00','9 Nov 05:00','9 Nov 21:00','10 Nov 13:00','11 Nov 05:00','11 Nov 21:00','12 Nov 13:00','13 Nov 05:00','13 Nov 21:00'][round(datum.value/16)]", "labelAlign": "left", "labelFlush": false, "labelOverlap": false, "labelBound": false, "grid": false, "domain": false, "tickSize": 3, "labelPadding": 1}},
  "y": {"field": "v", "type": "quantitative", "scale": {"domain": [0, 100], "nice": false, "zero": false},
        "axis": {"orient": "right", "title": null, "values": [100, 80, 20, 0], "grid": false, "domain": false, "tickSize": 3, "labelPadding": 1, "labelFlush": true, "labelOverlap": false}},
  "detail": {"field": "s"},
  "color": {"field": "s", "type": "nominal", "scale": {"domain": ["main","sig"], "range": ["#000080","#ff0000"]}, "legend": null}
 }},
{"data": {"values": [{"i": 1, "v": 93.2, "t": "Stoch(50,10,25) 11.2677 10.4471"}]}, "mark": {"type": "text", "font": "Liberation Sans", "fontSize": 9.5, "align": "left", "baseline": "middle", "color": "#333333"},
 "encoding": {
  "x": {"field": "i", "type": "quantitative"},
  "y": {"field": "v", "type": "quantitative"},
  "text": {"field": "t"}
 }},
{"data": {"values": [{"i": 177, "v": 6}]}, "mark": {"type": "point", "shape": "M0,-1L0.8,-0.2L0.35,-0.2L0.35,1L-0.35,1L-0.35,-0.2L-0.8,-0.2Z", "size": 225, "filled": true, "fill": "#ffffff", "stroke": "#008000", "strokeWidth": 1, "opacity": 1},
 "encoding": {
  "x": {"field": "i", "type": "quantitative"},
  "y": {"field": "v", "type": "quantitative"}
 }}
]
}
]
}
